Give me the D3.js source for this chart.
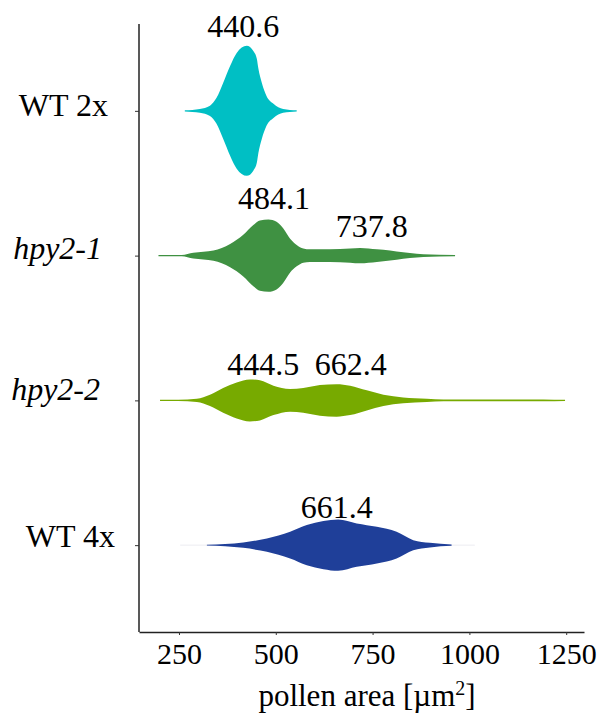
<!DOCTYPE html>
<html><head><meta charset="utf-8">
<script src="https://cdn.jsdelivr.net/npm/d3@7"></script>
</head><body style="margin:0">
<script>
// ---- data ----
const categories = ["WT 2x", "hpy2-1", "hpy2-2", "WT 4x"];
const italicCats = [false, true, true, false];
const colors = ["#00BFC4", "#3F9142", "#77AA00", "#1F3F99"];
const xTicks = [250, 500, 750, 1000, 1250];
// density profiles: [pollen area, relative half-width]
const densWT2x = [[265,0.01],[304,0.03],[330,0.08],[347,0.2],[364,0.43],[382,0.69],[399,0.89],[425,1.0],[442,0.92],[451,0.8],[455,0.65],[464,0.43],[476,0.23],[494,0.11],[519,0.03],[554,0.01]];
const densHpy21 = [[197,0.008],[257,0.01],[287,0.045],[339,0.08],[382,0.18],[416,0.32],[442,0.47],[459,0.54],[481,0.555],[502,0.52],[519,0.42],[537,0.26],[554,0.165],[571,0.11],[588,0.097],[640,0.097],[692,0.108],[718,0.118],[761,0.097],[795,0.077],[829,0.05],[864,0.03],[881,0.02],[963,0.008]];
const densHpy22 = [[201,0.008],[248,0.01],[296,0.026],[330,0.088],[364,0.19],[399,0.277],[433,0.323],[459,0.308],[494,0.226],[537,0.174],[571,0.19],[614,0.235],[657,0.25],[692,0.226],[735,0.154],[778,0.088],[829,0.046],[890,0.026],[933,0.015],[1191,0.015],[1247,0.008]];
const densWT4x = [[322,0.006],[416,0.042],[477,0.103],[537,0.205],[580,0.308],[623,0.37],[661,0.395],[709,0.334],[761,0.282],[812,0.205],[855,0.077],[898,0.035],[954,0.01]];
const densities = [densWT2x, densHpy21, densHpy22, densWT4x];
// peak annotations
const annoCat = [0, 1, 1, 2, 2, 3];
const annoValue = [440.6, 484.1, 737.8, 444.5, 662.4, 661.4];
const annoText = ["440.6", "484.1", "737.8", "444.5", "662.4", "661.4"];
const annoDx = [-9.5, 4.4, 3.8, 9, 12, -1.6];
const annoDy = [-74, -46.6, -18.6, -25.4, -25.4, -27];
const catDx = [-31, -37, -39, -24];
const catDy = [5, 3.4, 0, 1.6];
const xTitle = "pollen area [\u00b5m";

// ---- chart ----
const W = 603, H = 727;
const FONT = "Liberation Serif";
const svg = d3.select("body").append("svg").attr("width", W).attr("height", H)
  .style("display", "block").attr("font-family", FONT);
const x = d3.scaleLinear().domain([146.7, 1296]).range([139, 584]);
const y = d3.scalePoint().domain(categories).range([24, 632]).padding(0.6);
const w = d3.scaleLinear().domain([0, 1]).range([0, 65]);

// faint WT 4x tails
svg.append("line").attr("x1", x(253)).attr("x2", x(1014)).attr("y1", y("WT 4x")).attr("y2", y("WT 4x"))
  .attr("stroke", "#ececf2").attr("stroke-width", 1);

categories.forEach((c, i) => {
  const area = d3.area()
    .curve(d3.curveMonotoneX)
    .x(d => x(d[0]))
    .y0(d => y(c) - w(d[1]))
    .y1(d => y(c) + w(d[1]));
  svg.append("path").datum(densities[i]).attr("d", area).attr("fill", colors[i]);
});

// axes
const xAxis = d3.axisBottom(x).tickValues(xTicks).tickFormat(d3.format("d")).tickSize(3).tickSizeOuter(0).tickPadding(8);
const gx = svg.append("g").attr("transform", "translate(0,632)").call(xAxis)
  .attr("font-family", FONT).attr("font-size", 30);
gx.select(".domain").attr("stroke", "#222").attr("stroke-width", 1.5);
gx.selectAll(".tick line").attr("stroke", "#333");
gx.selectAll(".tick text").attr("dy", "0.71em").attr("fill", "#000").style("font-family", `"${FONT}"`);

const yAxis = d3.axisLeft(y).tickSize(4).tickSizeOuter(0).tickFormat("");
const gy = svg.append("g").attr("transform", "translate(139,0)").call(yAxis);
gy.select(".domain").attr("d", "M0,24V632").attr("stroke", "#222").attr("stroke-width", 1.5);
gy.selectAll(".tick line").attr("stroke", "#333");

// axis title
const tt = svg.append("text").attr("x", 367).attr("y", 706).attr("text-anchor", "middle")
  .attr("font-size", 31).style("font-family", `"${FONT}"`);
tt.append("tspan").text(xTitle);
tt.append("tspan").attr("font-size", 20).attr("dy", -11).text("2");
tt.append("tspan").attr("dy", 11).text("]");

// category labels
categories.forEach((c, i) => {
  svg.append("text")
    .attr("x", 139 + catDx[i]).attr("y", y(c) + catDy[i])
    .attr("text-anchor", "end").attr("font-size", 32)
    .style("font-family", `"${FONT}"`)
    .attr("font-style", italicCats[i] ? "italic" : "normal")
    .text(c);
});

// annotations
annoText.forEach((t, i) => {
  svg.append("text")
    .attr("x", x(annoValue[i]) + annoDx[i]).attr("y", y(categories[annoCat[i]]) + annoDy[i])
    .attr("text-anchor", "middle").attr("font-size", 32)
    .style("font-family", `"${FONT}"`)
    .text(t);
});
</script>
</body></html>
